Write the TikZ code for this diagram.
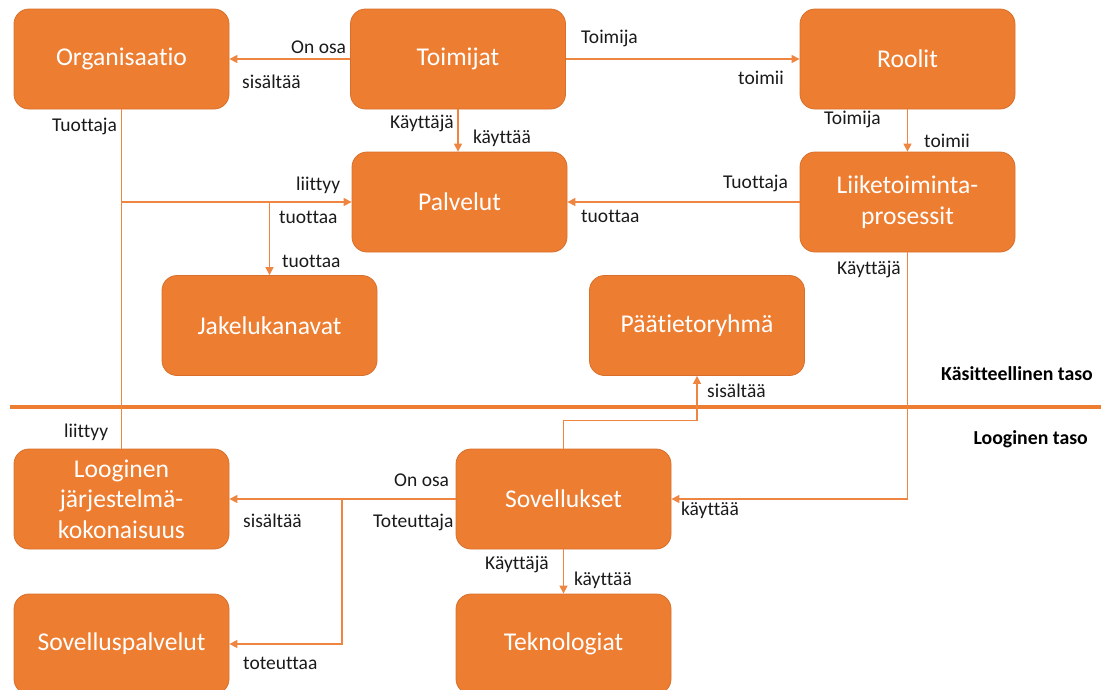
\documentclass[tikz,border=0pt]{standalone}
\usepackage{fontspec}
\setmainfont{Carlito}[Ligatures={NoCommon}]
\usetikzlibrary{arrows.meta}
\definecolor{boxfill}{HTML}{ED7D31}
\definecolor{boxedge}{HTML}{D8702B}
\definecolor{linkcol}{HTML}{EE8541}
\definecolor{labelcol}{HTML}{1A1A1A}
\begin{document}
\begin{tikzpicture}[x=1pt,y=-1pt,
  entity/.style={draw=boxedge, line width=0.8pt, fill=boxfill, rounded corners=15pt,
    minimum width=215pt, minimum height=100pt, inner sep=0pt, text=white,
    align=center, font=\fontsize{25.6}{30.5}\selectfont},
  link/.style={draw=linkcol, line width=1.3pt},
  arr/.style={link, -{Triangle[length=8pt,width=8pt]}},
  lbl/.style={inner sep=0pt, anchor=west, text=labelcol, font=\fontsize{19.5}{22}\selectfont},
  level/.style={inner sep=0pt, anchor=east, text=black, font=\fontsize{19.8}{22}\selectfont\bfseries},
  divider/.style={draw=boxfill, line width=4pt}]
\useasboundingbox (0,0) rectangle (1101,689);

% entities
\node[entity] (org)  at (121.5,59)   {Organisaatio};
\node[entity] (toim) at (458,59)     {Toimijat};
\node[entity] (rool) at (907.5,59)   {Roolit};
\node[entity] (palv) at (459.5,202)  {Palvelut};
\node[entity] (lp)   at (907.5,202)  {Liiketoiminta-\\prosessit};
\node[entity] (jak)  at (269.5,325.5) {Jakelukanavat};
\node[entity] (paa)  at (697,325.5)  {Päätietoryhmä};
\node[entity] (ljk)  at (121.5,499)  {Looginen\\järjestelmä-\\kokonaisuus};
\node[entity] (sov)  at (563.5,499)  {Sovellukset};
\node[entity] (spal) at (121.5,644)  {Sovelluspalvelut};
\node[entity] (tek)  at (563.5,644)  {Teknologiat};

% divider between the two levels
\coordinate (dl) at (10,407);
\coordinate (dr) at (1101,407);
\draw[divider] (dl) -- (dr);
\node[level] (lvl1) at (1093,374) {Käsitteellinen taso};
\node[level] (lvl2) at (1088,439) {Looginen taso};

% connectors, conceptual level
\draw[arr] (toim.west) -- (org.east);
\draw[arr] (toim.east) -- (rool.west);
\draw[arr] (toim.south) -- (toim.south |- palv.north);
\draw[arr] (rool.south) -- (lp.north);
\draw[arr] (lp.west) -- (palv.east);
\coordinate (j1) at (org.south |- palv.west);
\coordinate (j2) at (jak.north |- palv.west);
\draw[arr] (org.south) -- (j1) -- (palv.west);
\draw[arr] (j2) -- (jak.north);
\draw[link] (j1) -- (ljk.north);

% connectors, logical level
\coordinate (j3) at (342,499);
\draw[arr] (sov.west) -- (ljk.east);
\draw[arr] (j3) |- (spal.east);
\draw[arr] (sov.north) -- ++(0,-28) -| (paa.south);
\draw[arr] (lp.south) |- (sov.east);
\draw[arr] (sov.south) -- (tek.north);

% connector labels
\node[lbl] (l1)  at (291,47)  {On osa};
\node[lbl] (l2)  at (242,82)  {sisältää};
\node[lbl] (l3)  at (581,38)  {Toimija};
\node[lbl] (l4)  at (738,78)  {toimii};
\node[lbl] (l5)  at (390,123) {Käyttäjä};
\node[lbl] (l6)  at (473,138) {käyttää};
\node[lbl] (l7)  at (824,119) {Toimija};
\node[lbl] (l8)  at (924,141) {toimii};
\node[lbl] (l9)  at (723,183) {Tuottaja};
\node[lbl] (l10) at (581,216) {tuottaa};
\node[lbl] (l11) at (52,126)  {Tuottaja};
\node[lbl] (l12) at (296,185) {liittyy};
\node[lbl] (l13) at (279,217) {tuottaa};
\node[lbl] (l14) at (282,261) {tuottaa};
\node[lbl] (l15) at (837,269) {Käyttäjä};
\node[lbl] (l16) at (707,391) {sisältää};
\node[lbl] (l17) at (64,432)  {liittyy};
\node[lbl] (l18) at (394,480) {On osa};
\node[lbl] (l19) at (243,521) {sisältää};
\node[lbl] (l20) at (373,522) {Toteuttaja};
\node[lbl] (l21) at (681,510) {käyttää};
\node[lbl] (l22) at (485,564) {Käyttäjä};
\node[lbl] (l23) at (574,580) {käyttää};
\node[lbl] (l24) at (243,663) {toteuttaa};
\end{tikzpicture}
\end{document}
